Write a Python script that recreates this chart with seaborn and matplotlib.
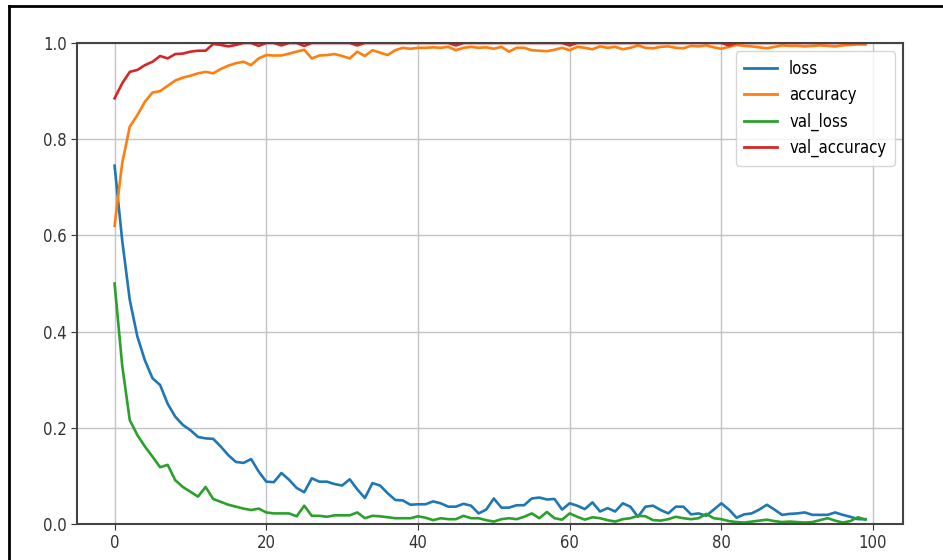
import matplotlib
matplotlib.use("Agg")
import matplotlib.pyplot as plt
import matplotlib.lines as mlines
from matplotlib import font_manager
import numpy as np
import pandas as pd
import seaborn as sns

# training history (epochs 0..99)
loss = [0.745, 0.59, 0.466, 0.39, 0.34, 0.303, 0.289, 0.25, 0.223, 0.206,
        0.195, 0.181, 0.178, 0.177, 0.161, 0.143, 0.129, 0.127, 0.135, 0.109,
        0.088, 0.087, 0.106, 0.092, 0.075, 0.066, 0.095, 0.088, 0.088, 0.083,
        0.080, 0.093, 0.072, 0.054, 0.085, 0.080, 0.064, 0.050, 0.049, 0.040,
        0.041, 0.041, 0.047, 0.043, 0.036, 0.036, 0.042, 0.038, 0.022, 0.030,
        0.053, 0.034, 0.034, 0.039, 0.039, 0.053, 0.055, 0.051, 0.052, 0.030,
        0.043, 0.038, 0.031, 0.045, 0.026, 0.033, 0.026, 0.043, 0.036, 0.015,
        0.036, 0.038, 0.029, 0.022, 0.036, 0.036, 0.020, 0.022, 0.017, 0.030,
        0.043, 0.030, 0.013, 0.020, 0.022, 0.030, 0.040, 0.030, 0.019, 0.021,
        0.022, 0.024, 0.019, 0.019, 0.019, 0.024, 0.019, 0.015, 0.010, 0.010]

accuracy = [0.62, 0.75, 0.826, 0.85, 0.878, 0.897, 0.90, 0.911, 0.922, 0.928,
            0.932, 0.937, 0.94, 0.937, 0.946, 0.953, 0.958, 0.961, 0.954, 0.968,
            0.975, 0.974, 0.974, 0.978, 0.982, 0.986, 0.968, 0.974, 0.975, 0.977,
            0.973, 0.968, 0.982, 0.973, 0.985, 0.980, 0.975, 0.985, 0.990, 0.988,
            0.990, 0.990, 0.991, 0.990, 0.992, 0.985, 0.990, 0.992, 0.990, 0.991,
            0.988, 0.992, 0.982, 0.990, 0.990, 0.985, 0.984, 0.983, 0.986, 0.990,
            0.985, 0.992, 0.990, 0.987, 0.993, 0.990, 0.992, 0.987, 0.990, 0.995,
            0.990, 0.989, 0.992, 0.993, 0.990, 0.989, 0.994, 0.993, 0.995, 0.991,
            0.988, 0.992, 0.996, 0.994, 0.993, 0.991, 0.989, 0.992, 0.995, 0.994,
            0.994, 0.993, 0.994, 0.995, 0.994, 0.993, 0.995, 0.996, 0.997, 0.997]

val_loss = [0.50, 0.33, 0.216, 0.185, 0.161, 0.14, 0.118, 0.123, 0.091, 0.077,
            0.067, 0.057, 0.077, 0.052, 0.046, 0.040, 0.036, 0.032, 0.029, 0.032,
            0.024, 0.022, 0.022, 0.022, 0.016, 0.038, 0.017, 0.017, 0.015, 0.018,
            0.018, 0.018, 0.024, 0.012, 0.017, 0.016, 0.014, 0.012, 0.012, 0.012,
            0.016, 0.013, 0.008, 0.012, 0.010, 0.010, 0.017, 0.012, 0.012, 0.008,
            0.005, 0.010, 0.012, 0.010, 0.015, 0.022, 0.012, 0.025, 0.012, 0.009,
            0.022, 0.015, 0.009, 0.014, 0.012, 0.008, 0.005, 0.010, 0.012, 0.017,
            0.016, 0.008, 0.007, 0.010, 0.015, 0.012, 0.010, 0.012, 0.021, 0.012,
            0.010, 0.006, 0.004, 0.003, 0.005, 0.007, 0.009, 0.006, 0.004, 0.005,
            0.004, 0.003, 0.004, 0.008, 0.012, 0.007, 0.003, 0.006, 0.014, 0.009]

val_accuracy = [0.885, 0.916, 0.94, 0.944, 0.954, 0.961, 0.973, 0.968, 0.977, 0.978,
                0.982, 0.984, 0.984, 0.998, 0.996, 0.993, 0.996, 1.0, 1.0, 0.994,
                1.0, 1.0, 0.995, 1.0, 1.0, 0.994, 1.0, 1.0, 1.0, 1.0,
                1.0, 1.0, 0.995, 1.0, 1.0, 1.0, 1.0, 1.0, 1.0, 1.0,
                1.0, 1.0, 1.0, 1.0, 1.0, 0.995, 1.0, 1.0, 1.0, 1.0,
                1.0, 1.0, 1.0, 1.0, 1.0, 1.0, 1.0, 1.0, 1.0, 1.0,
                0.995, 1.0, 1.0, 1.0, 1.0, 1.0, 1.0, 1.0, 1.0, 1.0,
                1.0, 1.0, 1.0, 1.0, 1.0, 1.0, 1.0, 1.0, 1.0, 1.0,
                1.0, 0.995, 1.0, 1.0, 1.0, 1.0, 1.0, 1.0, 1.0, 1.0,
                1.0, 1.0, 1.0, 1.0, 1.0, 1.0, 1.0, 1.0, 1.0, 1.0]

names = ["loss", "accuracy", "val_loss", "val_accuracy"]
colors = ["#1f77b4", "#ff7f0e", "#2ca02c", "#d62728"]

df = pd.DataFrame({"loss": loss, "accuracy": accuracy,
                   "val_loss": val_loss, "val_accuracy": val_accuracy})
df["epoch"] = np.arange(len(df))
long_df = df.melt(id_vars="epoch", var_name="metric", value_name="value")

# the screenshot's text is tall and narrow: use a condensed face if there is one
has_condensed = any(f.name == "DejaVu Sans" and "ondensed" in str(f.stretch) + f.fname
                    for f in font_manager.fontManager.ttflist)
plt.rcParams["font.family"] = ["DejaVu Sans"]
if has_condensed:
    plt.rcParams["font.stretch"] = "condensed"
    fsize = 12
else:
    fsize = 11
plt.rcParams["font.size"] = fsize

fig = plt.figure(figsize=(9.43, 5.6), dpi=100)
ax = fig.add_axes([0.0817, 0.0643, 0.8759, 0.8589])

sns.lineplot(data=long_df, x="epoch", y="value", hue="metric",
             hue_order=names, palette=colors, linewidth=1.9, ax=ax,
             legend=False)

ax.set_ylim(0, 1)
ax.set_xlim(-4.95, 103.95)
ax.set_xlabel("")
ax.set_ylabel("")
ax.grid(True, color="#c4c4c4", linewidth=1)
ax.tick_params(labelsize=fsize, colors="#333333", length=4)
for s in ax.spines.values():
    s.set_linewidth(1.5)
    s.set_color("#444444")

handles = [mlines.Line2D([], [], color=c, linewidth=2) for c in colors]
ax.legend(handles, names, loc="upper right", fontsize=fsize, labelspacing=0.5,
          borderpad=0.5, handletextpad=0.7)

# black frame edges of the screenshot
fig.add_artist(mlines.Line2D([9 / 943, 9 / 943], [0, 1 - 6 / 560],
                             transform=fig.transFigure, color="black", linewidth=2))
fig.add_artist(mlines.Line2D([9 / 943, 1], [1 - 6 / 560, 1 - 6 / 560],
                             transform=fig.transFigure, color="black", linewidth=2))

fig.savefig("out.png", dpi=100)
